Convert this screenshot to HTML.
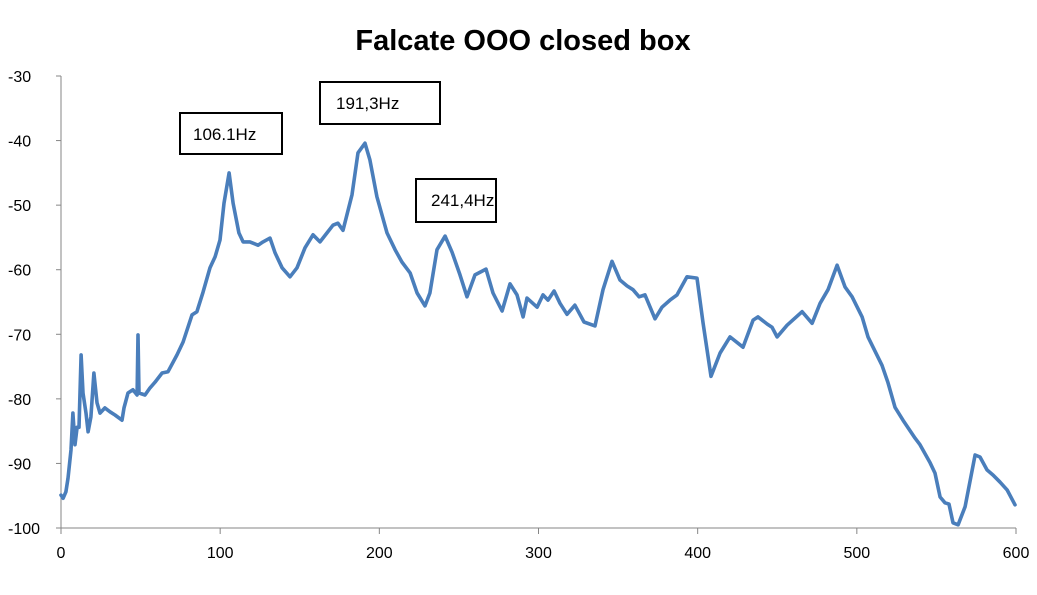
<!DOCTYPE html>
<html><head><meta charset="utf-8"><style>
body{margin:0;background:#fff;}
svg{display:block;font-family:"Liberation Sans",sans-serif;}
</style></head><body>
<svg id="chart" width="1037" height="595" viewBox="0 0 1037 595">
<rect x="0" y="0" width="1037" height="595" fill="#fff"/>
<text x="523" y="50" text-anchor="middle" font-size="29" font-weight="bold" fill="#000">Falcate OOO closed box</text>
<g id="axes"></g>
<path id="line" fill="none" stroke="#4a7ebb" stroke-width="3.6" stroke-linejoin="round" stroke-linecap="round"/>
<g>
<rect x="180" y="113" width="102" height="41" fill="#fff" stroke="#000" stroke-width="2"/>
<text x="193" y="140" font-size="17">106.1Hz</text></g>
<g>
<rect x="320" y="82" width="120" height="42" fill="#fff" stroke="#000" stroke-width="2"/>
<text x="336" y="109" font-size="17">191,3Hz</text></g>
<g>
<rect x="416" y="179" width="80" height="43" fill="#fff" stroke="#000" stroke-width="2"/>
<text x="431" y="206" font-size="17">241,4Hz</text></g>
</svg>
<script>
const freqs=[0,1.3,3.1,4.4,6.3,7.5,8.8,10.1,11.3,12.6,13.8,15.7,17,18.8,20.7,22.6,24.5,27.6,30.8,33.9,38.3,39.6,42.1,45.2,47.8,48.4,49,52.8,55.9,59.1,63.5,67.2,72.9,76.7,82.3,85.4,89.2,93.6,96.8,99.9,102.4,105.6,108.1,111.8,114.4,118.7,123.8,126.9,131.3,134.5,138.9,143.9,148.3,153.3,158.3,162.7,167.1,170.9,174,177.2,182.8,186.6,191,194.1,198.5,204.8,209.9,214.2,219.3,223.7,228.7,231.8,236.2,241.3,245.7,250.7,255.1,260.1,267,271.4,277.1,282.1,286.5,290.3,292.8,299.1,302.8,306,309.8,313.5,317.9,322.9,328.6,335.5,340.5,346.2,351.2,355.6,359.4,363.2,366.9,373.2,377.6,382.6,387,393.3,399.6,403.4,408.4,414.1,420.3,428.5,434.8,437.9,443.6,446.7,449.9,456.2,465.6,471.9,476.9,481.9,487.6,492.6,497,503.3,507,515.8,519.6,524,529,536.6,539.7,546,549.1,552.3,555.4,557.9,560.4,563.6,568,574.3,577.4,581.8,585.6,590,594.4,599.4];
const levels=[-94.9,-95.4,-94.4,-92.3,-87.9,-82.2,-87.1,-84.4,-84.4,-73.2,-79.1,-82.2,-85.1,-82.8,-76,-80.6,-82.2,-81.4,-82,-82.5,-83.3,-81.4,-79.1,-78.6,-79.4,-70.1,-79.1,-79.4,-78.3,-77.4,-76,-75.8,-73.2,-71.2,-67,-66.5,-63.5,-59.7,-58,-55.4,-49.7,-45,-49.7,-54.3,-55.7,-55.7,-56.2,-55.7,-55.1,-57.4,-59.7,-61.1,-59.7,-56.6,-54.6,-55.7,-54.3,-53.1,-52.8,-53.9,-48.4,-41.9,-40.4,-43,-48.7,-54.3,-56.9,-58.8,-60.5,-63.6,-65.6,-63.6,-56.9,-54.8,-57.3,-60.8,-64.2,-60.8,-59.9,-63.6,-66.4,-62.2,-63.9,-67.3,-64.4,-65.8,-63.9,-64.7,-63.3,-65.2,-66.9,-65.5,-68.1,-68.7,-63.1,-58.7,-61.6,-62.5,-63.1,-64.2,-63.9,-67.6,-65.8,-64.7,-63.9,-61.1,-61.3,-68.3,-76.5,-72.9,-70.4,-72,-67.8,-67.3,-68.4,-68.9,-70.4,-68.6,-66.5,-68.3,-65.2,-63.1,-59.3,-62.7,-64.2,-67.3,-70.4,-74.8,-77.5,-81.3,-83.3,-86.1,-87.1,-89.9,-91.5,-95.2,-96.1,-96.3,-99.2,-99.5,-96.7,-88.7,-89,-91,-91.8,-92.9,-94.1,-96.4];
const xTicks=[0,100,200,300,400,500,600];
const yTicks=[-30,-40,-50,-60,-70,-80,-90,-100];
const X0=61,X1=1016,Y0=76,Y1=528;
const xs=v=>X0+(v-0)/600*(X1-X0);
const ys=v=>Y0+(-30-v)/70*(Y1-Y0);
const NS="http://www.w3.org/2000/svg";
const axes=document.getElementById('axes');
function mk(t,a){const e=document.createElementNS(NS,t);for(const k in a)e.setAttribute(k,a[k]);axes.appendChild(e);return e;}
let e=mk('line',{x1:X0,y1:Y0,x2:X0,y2:Y1,stroke:'#868686','stroke-width':1});


e=mk('line',{x1:X0,y1:Y1,x2:X1,y2:Y1,stroke:'#868686','stroke-width':1});


yTicks.forEach(v=>{const y=ys(v);
 let t=mk('line',{x1:X0-5,y1:y,x2:X0,y2:y,stroke:'#868686'});
 
 
 let l=mk('text',{x:8,y:y+6,'font-size':16,fill:'#000'});l.textContent=v;
 
 });
xTicks.forEach(v=>{const x=xs(v);
 let t=mk('line',{x1:x,y1:Y1,x2:x,y2:Y1+6,stroke:'#868686'});
 
 
 let l=mk('text',{x:x,y:Y1+30,'font-size':16,'text-anchor':'middle',fill:'#000'});l.textContent=v;
 
 });
document.getElementById('line').setAttribute('d',freqs.map((f,i)=>(i?'L':'M')+xs(f).toFixed(1)+','+ys(levels[i]).toFixed(1)).join(''));
</script>
</body></html>
